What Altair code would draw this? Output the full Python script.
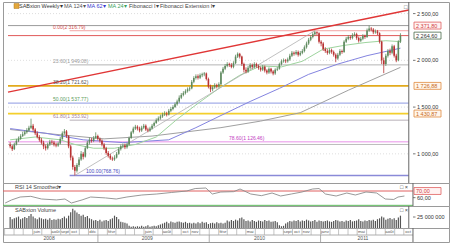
import altair as alt
import pandas as pd

FONT = "Liberation Sans"

# ---------------- data (weekly candles, week index 0 = 2008-03-03) ----------------
WEEK0 = "2008-03-03"
close = [
    1080, 1050, 1100, 1140, 1160, 1190, 1210, 1230, 1250, 1280,
    1300, 1260, 1220, 1180, 1150, 1120, 1080, 1060, 1100, 1130,
    1120, 1100, 1090, 1110, 1160, 1220, 1240, 1190, 1080, 960,
    860, 820, 880, 940, 1000, 970, 1060, 1120, 1150, 1140,
    1170, 1190, 1160, 1140, 1100, 1060, 1010, 980, 950, 940,
    960, 1000, 1050, 1080, 1090, 1070, 1100, 1170, 1230, 1270,
    1290, 1270, 1250, 1280, 1300, 1260, 1250, 1270, 1300, 1330,
    1360, 1380, 1400, 1420, 1430, 1420, 1460, 1480, 1500, 1530,
    1560, 1600, 1630, 1650, 1670, 1690, 1700, 1770, 1810, 1830,
    1815, 1840, 1850, 1860, 1800, 1720, 1690, 1710, 1735, 1720,
    1745, 1870, 1910, 1940, 1960, 1950, 1930, 1970, 2040, 2070,
    2040, 1960, 1900, 1880, 1920, 1950, 1930, 1960, 1940, 1920,
    1900, 1930, 1890, 1870, 1910, 1880, 1860, 1900, 1910, 1960,
    1990, 2000, 1990, 2010, 2050, 2080, 2070, 2090, 2060, 2080,
    2100, 2140, 2180, 2220, 2250, 2280, 2300, 2290, 2200, 2180,
    2120, 2100, 2080, 2110, 2090, 2060, 2020, 2060, 2100, 2090,
    2200, 2230, 2250, 2240, 2270, 2280, 2240, 2210, 2230, 2260,
    2250, 2320, 2340, 2330, 2300, 2310, 2290, 2200, 2000, 1960,
    2050, 2100, 2080, 2150, 2050, 2000, 2200, 2264.6,
]
open_ = [
    1100, 1080, 1050, 1100, 1140, 1160, 1190, 1210, 1230, 1250,
    1280, 1300, 1260, 1220, 1180, 1150, 1120, 1080, 1060, 1100,
    1130, 1120, 1100, 1090, 1110, 1160, 1220, 1240, 1190, 1080,
    960, 860, 820, 880, 940, 1000, 970, 1060, 1120, 1150,
    1140, 1170, 1190, 1160, 1140, 1100, 1060, 1010, 980, 950,
    940, 960, 1000, 1050, 1080, 1090, 1070, 1100, 1170, 1230,
    1270, 1290, 1270, 1250, 1280, 1300, 1260, 1250, 1270, 1300,
    1330, 1360, 1380, 1400, 1420, 1430, 1420, 1460, 1480, 1500,
    1530, 1560, 1600, 1630, 1650, 1670, 1690, 1700, 1770, 1810,
    1830, 1815, 1840, 1850, 1860, 1800, 1720, 1690, 1710, 1735,
    1720, 1745, 1870, 1910, 1940, 1960, 1950, 1930, 1970, 2040,
    2070, 2040, 1960, 1900, 1880, 1920, 1950, 1930, 1960, 1940,
    1920, 1900, 1930, 1890, 1870, 1910, 1880, 1860, 1900, 1910,
    1960, 1990, 2000, 1990, 2010, 2050, 2080, 2070, 2090, 2060,
    2080, 2100, 2140, 2180, 2220, 2250, 2280, 2300, 2290, 2200,
    2180, 2120, 2100, 2080, 2110, 2090, 2060, 2020, 2060, 2100,
    2090, 2200, 2230, 2250, 2240, 2270, 2280, 2240, 2210, 2230,
    2260, 2250, 2320, 2340, 2330, 2300, 2310, 2290, 2200, 2000,
    1960, 2050, 2100, 2080, 2150, 2050, 2000, 2200,
]
high = [
    1125, 1095, 1120, 1160, 1185, 1210, 1235, 1250, 1275, 1300,
    1376, 1320, 1275, 1240, 1200, 1170, 1140, 1100, 1120, 1150,
    1150, 1140, 1120, 1130, 1180, 1240, 1265, 1255, 1200, 1095,
    980, 880, 900, 965, 1030, 1020, 1080, 1140, 1175, 1170,
    1190, 1230, 1205, 1175, 1155, 1115, 1075, 1030, 1000, 970,
    985, 1020, 1070, 1100, 1110, 1110, 1120, 1185, 1245, 1290,
    1310, 1305, 1290, 1300, 1320, 1315, 1280, 1290, 1320, 1345,
    1380, 1400, 1420, 1440, 1455, 1450, 1480, 1500, 1520, 1550,
    1580, 1625, 1650, 1670, 1690, 1710, 1720, 1790, 1830, 1850,
    1850, 1860, 1868, 1875, 1870, 1815, 1740, 1730, 1755, 1750,
    1765, 1885, 1930, 1960, 1980, 1975, 1970, 1990, 2060, 2085,
    2080, 2050, 1975, 1925, 1940, 1970, 1965, 1980, 1975, 1955,
    1935, 1950, 1945, 1905, 1925, 1920, 1895, 1915, 1930, 1975,
    2010, 2020, 2015, 2030, 2070, 2100, 2095, 2110, 2105, 2100,
    2120, 2160, 2200, 2240, 2270, 2300, 2316.79, 2310, 2300, 2215,
    2195, 2140, 2120, 2130, 2125, 2105, 2075, 2080, 2120, 2115,
    2215, 2250, 2270, 2265, 2290, 2300, 2295, 2255, 2250, 2280,
    2275, 2340, 2371.8, 2355, 2345, 2330, 2325, 2300, 2210, 2030,
    2070, 2120, 2125, 2170, 2165, 2070, 2215, 2290,
]
low = [
    1060, 1030, 1040, 1090, 1125, 1150, 1180, 1195, 1215, 1240,
    1265, 1240, 1200, 1165, 1130, 1100, 1050, 1035, 1045, 1085,
    1100, 1080, 1070, 1075, 1100, 1150, 1205, 1170, 1060, 930,
    830, 768.76, 800, 860, 925, 940, 960, 1050, 1100, 1120,
    1125, 1160, 1145, 1120, 1080, 1040, 990, 960, 935, 925,
    925, 950, 990, 1035, 1060, 1050, 1055, 1090, 1160, 1215,
    1255, 1250, 1230, 1235, 1265, 1245, 1230, 1235, 1260, 1290,
    1320, 1345, 1365, 1385, 1405, 1400, 1410, 1445, 1465, 1490,
    1515, 1545, 1585, 1615, 1635, 1655, 1670, 1690, 1755, 1795,
    1795, 1800, 1820, 1830, 1785, 1700, 1660, 1670, 1695, 1700,
    1705, 1735, 1855, 1895, 1925, 1930, 1915, 1915, 1960, 2025,
    2020, 1940, 1870, 1860, 1865, 1905, 1910, 1915, 1920, 1900,
    1880, 1885, 1870, 1850, 1855, 1860, 1840, 1845, 1885, 1900,
    1945, 1975, 1970, 1975, 1995, 2035, 2050, 2055, 2040, 2045,
    2065, 2085, 2125, 2165, 2205, 2235, 2265, 2270, 2180, 2150,
    2100, 2080, 2060, 2065, 2070, 2040, 1980, 2005, 2045, 2070,
    2080, 2185, 2215, 2220, 2225, 2255, 2220, 2190, 2195, 2215,
    2230, 2240, 2305, 2310, 2280, 2285, 2270, 2180, 1960, 1863,
    1940, 2030, 2055, 2065, 2030, 1980, 1990, 2185,
]
volume_m = [
    25, 20, 22, 24, 26, 20, 22, 25, 23, 27,
    32, 26, 22, 20, 24, 22, 20, 21, 19, 22,
    18, 20, 19, 21, 20, 23, 26, 22, 28, 36,
    44, 40, 35, 32, 28, 30, 25, 27, 22, 20,
    17, 18, 16, 19, 15, 17, 18, 16, 20, 22,
    28, 25, 20, 14, 13, 12, 10, 5, 3, 4,
    3, 4, 3, 5, 3, 4, 6, 3, 4, 5,
    4, 6, 8, 10, 12, 14, 11, 15, 13, 12,
    14, 15, 13, 12, 14, 11, 12, 10, 12, 10,
    13, 11, 14, 12, 13, 9, 11, 12, 10, 13,
    11, 12, 10, 12, 17, 15, 18, 16, 19, 17,
    22, 24, 20, 16, 17, 15, 18, 16, 14, 17,
    16, 15, 18, 16, 17, 14, 15, 16, 13, 6,
    4, 5, 10, 13, 16, 15, 17, 16, 18, 15,
    17, 16, 19, 17, 15, 16, 18, 14, 17, 16,
    15, 16, 17, 15, 14, 16, 18, 17, 15, 16,
    14, 17, 16, 18, 15, 16, 17, 20, 16, 15,
    17, 16, 18, 17, 19, 16, 20, 22, 26, 24,
    19, 21, 23, 20, 22, 18, 24, 28,
]
rsi_week = [0, 3, 7, 12, 17, 24, 28, 31, 36, 40, 47, 52, 57, 64, 71, 78, 85, 89, 94, 97,
            101, 107, 110, 115, 120, 125, 129, 134, 139, 144, 147, 150, 155, 160, 164,
            169, 174, 178, 182, 184, 187]
rsi_value = [52, 56.6, 61, 62, 58, 56.6, 58, 52, 56.6, 61, 59.6, 58, 61, 64, 65.5, 67.8, 70,
             73.7, 74.5, 65.5, 68.5, 69, 73, 65.5, 63, 67, 62.5, 65.5, 68.5, 73, 73.7, 65.5,
             62.5, 67, 64, 68.5, 67, 58, 57.3, 61, 62.5]
ma24_week = [0, 12, 24, 31, 40, 50, 60, 70, 80, 90, 100, 110, 120, 130, 140, 150, 160, 170, 180, 187]
ma24_value = [1150, 1180, 1150, 1100, 1060, 1060, 1100, 1180, 1370, 1540, 1700, 1840, 1940,
              1930, 1990, 2120, 2160, 2190, 2210, 2200]
ma62_week = [0, 17, 35, 54, 76, 89, 101, 115, 129, 143, 157, 171, 187]
ma62_value = [1270, 1220, 1150, 1120, 1150, 1280, 1410, 1560, 1700, 1850, 1960, 2050, 2130]
ma124_week = [0, 21, 45, 68, 101, 120, 139, 162, 187]
ma124_value = [1260, 1210, 1160, 1190, 1280, 1350, 1440, 1680, 1925]
trend_week = [-1.03, 191.0]
trend_value = [1660, 2538]
fib_diag_week = [31, 146]
fib_diag_value = [768.76, 2316.79]
level_value = [2371.80, 2316.79, 2264.60, 1951.46, 1726.88, 1542.78, 1430.87, 1360.11, 1128.45, 1100.04, 768.76]
level_from = [-1.03, 28.5, -1.03, 28.5, -1.03, -1.03, -1.03, 28.5, -1.03, -1.03, 28.5]
fib_label_text = ["0.00(2 316.79)", "23.60(1 949.08)", "38.20(1 721.62)", "50.00(1 537.77)",
                  "61.80(1 353.92)", "78.60(1 126.46)", "100.00(768.76)"]
fib_label_value = [2316.79, 1951.46, 1726.88, 1542.78, 1360.11, 1128.45, 768.76]
price_ticks = [1000, 1500, 2000, 2500]
price_tick_labels = ["1 000,00", "1 500,00", "2 000,00", "2 500,00"]
marker_value = [2371.80, 2264.60, 1726.88, 1430.87]
marker_text = ["2 371,80", "2 264,60", "1 726,88", "1 430,87"]
rsi_levels = [70, 48.5]
vol_tick = 25
year_text = ["2008", "2009", "2010", "2011"]
year_center = ["2008-07-25", "2009-06-12", "2010-06-15", "2011-05-20"]
year_bounds = ["2009-01-01", "2010-01-01", "2011-01-01"]
month_text = ["juin", "août", "sept", "oct", "déc", "févr", "juin", "août", "oct", "nov",
              "févr", "mai", "sept", "oct", "nov", "janv", "mai", "août", "oct"]
month_date = ["2008-06-15", "2008-08-15", "2008-09-15", "2008-10-15", "2008-12-15",
              "2009-02-15", "2009-06-15", "2009-08-15", "2009-10-15", "2009-11-15",
              "2010-02-15", "2010-05-15", "2010-09-15", "2010-10-15", "2010-11-15",
              "2011-01-15", "2011-05-15", "2011-08-15", "2011-10-15"]

# ---------------- helpers ----------------
X0, X1 = -1.03, 207.87
END = 191.0
W = 446
base = pd.Timestamp(WEEK0)


def widx(d):
    return (pd.Timestamp(d) - base).days / 7.0


xs = alt.Scale(domain=[X0, X1], nice=False, zero=False)
ys = alt.Scale(domain=[688, 2624], nice=False, zero=False)
rs = alt.Scale(domain=[47.5, 82], nice=False, zero=False)
vs = alt.Scale(domain=[0, 50], nice=False, zero=False)
ONE = pd.DataFrame({"k": [0]})


def X(f="i"):
    return alt.X(f"{f}:Q", scale=xs, axis=None)


def ptext(t, x, y, color="#444", size=5.5, align="left", baseline="middle"):
    return alt.Chart(ONE).mark_text(text=t, font=FONT, fontSize=size, color=color,
                                    align=align, baseline=baseline).encode(
        x=alt.value(x), y=alt.value(y))


def vtext(t, x, v, scale, color="#333", size=5.5, baseline="middle", dy=0):
    d = pd.DataFrame({"v": [v]})
    return alt.Chart(d).mark_text(text=t, font=FONT, fontSize=size, color=color,
                                  align="left", baseline=baseline, dy=dy).encode(
        x=alt.value(x), y=alt.Y("v:Q", scale=scale, axis=None))


def hrule(v, x0, x1, scale, color, width=1.0, dash=None):
    d = pd.DataFrame({"x0": [x0], "x1": [x1], "v": [v]})
    kw = dict(color=color, strokeWidth=width)
    if dash:
        kw["strokeDash"] = dash
    return alt.Chart(d).mark_rule(**kw).encode(
        x=X("x0"), x2="x1", y=alt.Y("v:Q", scale=scale, axis=None))


def tick(v, scale):
    d = pd.DataFrame({"v": [v]})
    return alt.Chart(d).mark_rule(color="#555", strokeWidth=0.8).encode(
        x=alt.value(410), x2=alt.value(412.5), y=alt.Y("v:Q", scale=scale, axis=None))


def boxed(t, v, scale, half, stroke, fill, tcolor):
    d = pd.DataFrame({"v": [v], "lo": [v - half], "hi": [v + half]})
    r = alt.Chart(d).mark_rect(fill=fill, stroke=stroke, strokeWidth=0.8).encode(
        x=alt.value(411), x2=alt.value(438),
        y=alt.Y("lo:Q", scale=scale, axis=None), y2="hi:Q")
    return [r, vtext(t, 413, v, scale, color=tcolor)]


def axis_line():
    return alt.Chart(pd.DataFrame({"i": [END]})).mark_rule(color="#666", strokeWidth=1).encode(x=X())


def line(weeks, vals, scale, color, width=1.0, dash=None):
    d = pd.DataFrame({"i": weeks, "v": vals})
    kw = dict(color=color, strokeWidth=width, clip=True)
    if dash:
        kw["strokeDash"] = dash
    return alt.Chart(d).mark_line(**kw).encode(x=X(), y=alt.Y("v:Q", scale=scale, axis=None))


# ---------------- main price panel ----------------
N = len(close)
cdf = pd.DataFrame({"i": list(range(N)), "o": open_, "h": high, "l": low, "c": close})
cdf["dir"] = ["up" if c >= o else "down" for o, c in zip(open_, close)]
dir_color = alt.Color("dir:N", scale=alt.Scale(domain=["up", "down"], range=["#5e8a5e", "#b83232"]), legend=None)

level_style = [("#9c9c9c", 1.0), ("#f2a4a4", 1.0), ("#e05a5a", 1.0), ("#b4b4b4", 1.0),
               ("#e2aa1c", 1.8), ("#a4aee8", 1.4), ("#f4cf2c", 1.8), ("#b8b0b8", 1.0),
               ("#f0b6f0", 1.4), ("#bdbdbd", 1.0), ("#8a8ad8", 1.4)]
fib_label_color = ["#d85050", "#9a9a9a", "#555555", "#5c9c5c", "#a482a4", "#c23cc2", "#4848c0"]

layers = []
for t in price_ticks:
    layers.append(hrule(t, X0, END, ys, "#d6d6d6", 0.8, [1, 2]))
for v, x0, (col, wd) in zip(level_value, level_from, level_style):
    layers.append(hrule(v, x0, END, ys, col, wd))
layers.append(line(ma124_week, ma124_value, ys, "#a0a0a0", 1.0))
layers.append(line(ma62_week, ma62_value, ys, "#8484e0", 1.0))
layers.append(line(ma24_week, ma24_value, ys, "#9ed49e", 1.0))
layers.append(line(fib_diag_week, fib_diag_value, ys, "#b0b0b0", 0.8))
layers.append(line(trend_week, trend_value, ys, "#e03636", 1.4))
layers.append(alt.Chart(cdf).mark_rule(strokeWidth=0.8).encode(
    x=X(), y=alt.Y("l:Q", scale=ys, axis=None), y2="h:Q", color=dir_color))
layers.append(alt.Chart(cdf).mark_bar(size=1.6).encode(
    x=X(), y=alt.Y("o:Q", scale=ys, axis=None), y2="c:Q", color=dir_color))
fib_x = [50, 50, 50, 50, 50, 226, 83]
for t, v, xx, col in zip(fib_label_text, fib_label_value, fib_x, fib_label_color):
    layers.append(vtext(t, xx, v, ys, color=col, size=5, baseline="bottom", dy=-1))
layers.append(axis_line())
for t, lab in zip(price_ticks, price_tick_labels):
    layers.append(tick(t, ys))
    layers.append(vtext(lab, 414, t, ys, color="#333"))
box_style = [("#e06060", "#fff2f2", "#d04040"), ("#4a6a4a", "#ffffff", "#333333"),
             ("#e08a40", "#fff6ec", "#c86a20"), ("#e08a40", "#fff6ec", "#c86a20")]
for v, t, (st, fi, tc) in zip(marker_value, marker_text, box_style):
    layers += boxed(t, v, ys, 37, st, fi, tc)
# header
layers.append(alt.Chart(ONE).mark_rect(fill="#e3a73a", stroke="#b07a20", strokeWidth=0.5).encode(
    x=alt.value(11), x2=alt.value(16), y=alt.value(1.5), y2=alt.value(6.5)))
for t, xx, col in [("SABxion Weekly▾", 16, "#333"), ("MA 124▾", 61, "#555"), ("MA 62▾", 84, "#3a3ad0"),
                   ("MA 24▾", 105, "#3aa05a"), ("Fibonacci I▾", 126, "#444"),
                   ("Fibonacci Extension I▾", 157, "#444")]:
    layers.append(ptext(t, xx, 4.2, color=col, size=5.5))
layers.append(ptext("□", 401, 4.5, color="#555", size=6))
main = alt.layer(*layers).properties(width=W, height=181)

# ---------------- RSI panel ----------------
rl = []
rl.append(hrule(rsi_levels[0], X0, END, rs, "#e06060", 1.0))
rl.append(hrule(rsi_levels[1], X0, END, rs, "#5cb85c", 1.0))
rl.append(line(rsi_week, rsi_value, rs, "#8c8c8c", 0.9))
rl.append(ptext("RSI 14 Smoothed▾", 12, 3.8, color="#444", size=5.5))
rl.append(ptext("□ ×", 397, 3.8, color="#444", size=5.5))
rl.append(axis_line())
rl += boxed("70,00", 70, rs, 5.2, "#e06060", "#fff2f2", "#d04040")
rl.append(tick(60, rs))
rl.append(vtext("60,00", 414, 60, rs))
rsi = alt.layer(*rl).properties(width=W, height=23)

# ---------------- Volume panel ----------------
vdf = pd.DataFrame({"i": list(range(N)), "v": volume_m})
vl = []
vl.append(alt.Chart(vdf).mark_bar(size=1.2, color="#555555").encode(
    x=X(), y=alt.Y("v:Q", scale=vs, axis=None)))
vl.append(ptext("SABxion Volume", 12, 3.8, color="#444", size=5.5))
vl.append(ptext("□ ×", 397, 3.8, color="#444", size=5.5))
vl.append(axis_line())
vl.append(tick(vol_tick, vs))
vl.append(vtext("25 000 000", 414, vol_tick, vs))
vol = alt.layer(*vl).properties(width=W, height=22)

# ---------------- Date panel ----------------
months = pd.date_range("2008-03-01", "2011-10-01", freq="MS")
mdf = pd.DataFrame({"i": [widx(m) for m in months]})
ydf = pd.DataFrame({"i": [widx(d) for d in year_bounds]})
mlab = pd.DataFrame({"i": [widx(d) for d in month_date], "t": month_text})
ylab = pd.DataFrame({"i": [widx(d) for d in year_center], "t": year_text})
dl = []
dl.append(hrule(0, X0, END, alt.Scale(domain=[0, 1]), "#999", 0.8).encode(y=alt.value(7)))
dl.append(alt.Chart(mdf).mark_rule(color="#aaa", strokeWidth=0.7).encode(
    x=X(), y=alt.value(0), y2=alt.value(7)))
dl.append(alt.Chart(ydf).mark_rule(color="#999", strokeWidth=0.8).encode(
    x=X(), y=alt.value(7), y2=alt.value(14)))
dl.append(alt.Chart(mlab).mark_text(font=FONT, fontSize=4.3, color="#555", baseline="middle").encode(
    x=X(), y=alt.value(3.6), text="t:N"))
dl.append(alt.Chart(ylab).mark_text(font=FONT, fontSize=5, color="#555", baseline="middle").encode(
    x=X(), y=alt.value(10.3), text="t:N"))
dl.append(axis_line())
dates = alt.layer(*dl).properties(width=W, height=14)

chart = alt.vconcat(main, rsi, vol, dates, spacing=0, bounds="flush").properties(
    padding={"left": 2, "top": 1, "right": 0, "bottom": 0},
    background="white",
).configure_view(stroke="#9a9a9a", strokeWidth=1).configure_concat(spacing=0)

chart.save("out.html", embed_options={"renderer": "svg", "actions": False})
